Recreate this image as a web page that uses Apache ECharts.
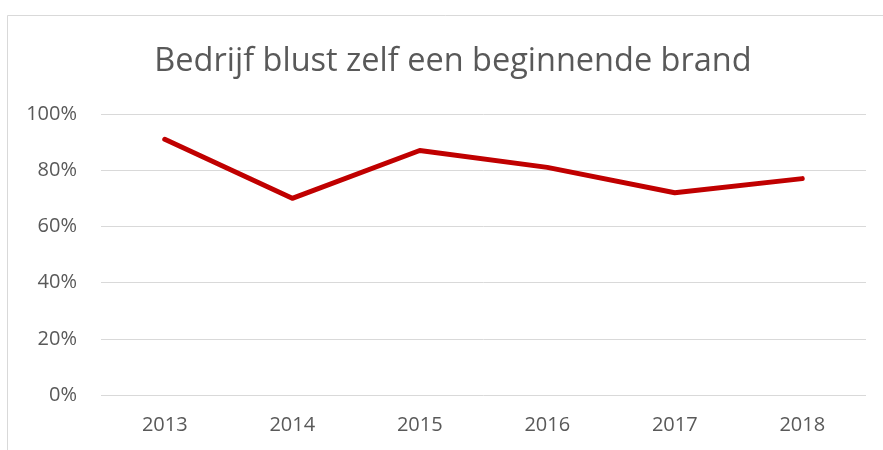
<!DOCTYPE html>
<html><head><meta charset="utf-8">
<script src="https://cdn.jsdelivr.net/npm/echarts@6/dist/echarts.min.js"></script>
<style>html,body{margin:0;padding:0;background:#fff}#c{width:883px;height:450px}</style>
</head><body><div id="c"></div>
<script>
var titleText = 'Bedrijf blust zelf een beginnende brand';
var years = ['2013','2014','2015','2016','2017','2018'];
var values = [91, 70, 87, 81, 72, 77];
var chart = echarts.init(document.getElementById('c'));
chart.setOption({
  animation: false,
  backgroundColor: '#fff',
  graphic: [{type:'rect', shape:{x:7.5,y:15.5,width:900,height:460}, style:{fill:'none', stroke:'#d9d9d9', lineWidth:1}, silent:true}],
  title: {text: titleText, left: 448, top: 40, textAlign: 'center',
    textStyle: {fontFamily: 'Open Sans', fontWeight: 'normal', fontSize: 32.5, color: '#595959'}},
  grid: {left: 101, right: 17, top: 114, bottom: 55},
  xAxis: {type: 'category', data: years, boundaryGap: true,
    axisLine: {show: false}, axisTick: {show: false},
    axisLabel: {color: '#595959', fontSize: 20, fontFamily: 'Open Sans', margin: 20}},
  yAxis: {type: 'value', min: 0, max: 100, interval: 20,
    axisLabel: {formatter: '{value}%', color: '#595959', fontSize: 20, fontFamily: 'Open Sans', margin: 24},
    splitLine: {lineStyle: {color: '#d9d9d9', width: 1}},
    axisLine: {show: false}, axisTick: {show: false}},
  series: [{type: 'line', data: values, symbol: 'none',
    lineStyle: {color: '#c00000', width: 5, cap: 'round', join: 'round'}}]
});
</script></body></html>
